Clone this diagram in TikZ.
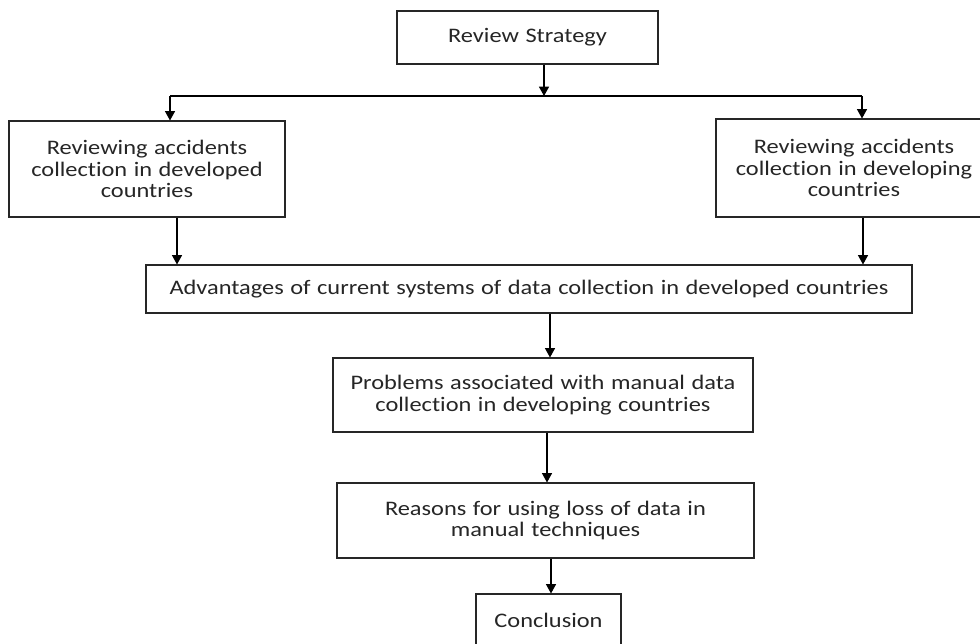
\documentclass[tikz,border=0pt]{standalone}
\usepackage{fontspec}
\setmainfont{Carlito}[FakeStretch=1.18, WordSpace=1.18, Ligatures=NoCommon]
\usetikzlibrary{arrows.meta}
\begin{document}
\begin{tikzpicture}[x=0.75pt,y=-0.75pt,
  box/.style={draw=black!85, line width=0.8pt, fill=white, align=center, inner sep=0pt,
    font=\fontsize{15.5}{16.2}\selectfont, text=black!85},
  arr/.style={draw=black, line width=0.8pt, -{Triangle[width=7.5pt,length=7pt]}},
  ln/.style={draw=black, line width=0.8pt}]
\useasboundingbox (0,0) rectangle (980,643);
\fill[white] (0,0) rectangle (980,643);

\node[box, minimum width=261*0.75pt, minimum height=53*0.75pt] (rs) at (527.5,37.5) {Review Strategy};
\node[box, minimum width=276*0.75pt, minimum height=96*0.75pt] (left) at (147,169)
  {Reviewing accidents\\collection in developed\\countries};
\node[box, minimum width=276*0.75pt, minimum height=98*0.75pt] (right) at (854,168)
  {Reviewing accidents\\collection in developing\\countries};
\node[box, minimum width=766*0.75pt, minimum height=48*0.75pt] (adv) at (529,289)
  {Advantages of current systems of data collection in developed countries};
\node[box, minimum width=420*0.75pt, minimum height=74*0.75pt] (prob) at (543,395)
  {Problems associated with manual data\\collection in developing countries};
\node[box, minimum width=417*0.75pt, minimum height=75*0.75pt] (reas) at (545.5,520.5)
  {Reasons for using loss of data in\\manual techniques};
\node[box, minimum width=145*0.75pt, minimum height=52*0.75pt] (conc) at (548.5,620) {Conclusion};

\coordinate (j) at (544,96);
\coordinate (jl) at (170,96);
\coordinate (jr) at (862,96);
\coordinate (xl) at (177,0);
\coordinate (xr) at (863,0);
\coordinate (xa) at (550,0);
\coordinate (xp) at (547,0);
\coordinate (xc) at (551,0);

\draw[arr] (j |- rs.south) -- (j);
\draw[ln] (jl) -- (jr);
\draw[arr] (jl) -- (jl |- left.north);
\draw[arr] (jr) -- (jr |- right.north);
\draw[arr] (xl |- left.south) -- (xl |- adv.north);
\draw[arr] (xr |- right.south) -- (xr |- adv.north);
\draw[arr] (xa |- adv.south) -- (xa |- prob.north);
\draw[arr] (xp |- prob.south) -- (xp |- reas.north);
\draw[arr] (xc |- reas.south) -- (xc |- conc.north);
\end{tikzpicture}
\end{document}
